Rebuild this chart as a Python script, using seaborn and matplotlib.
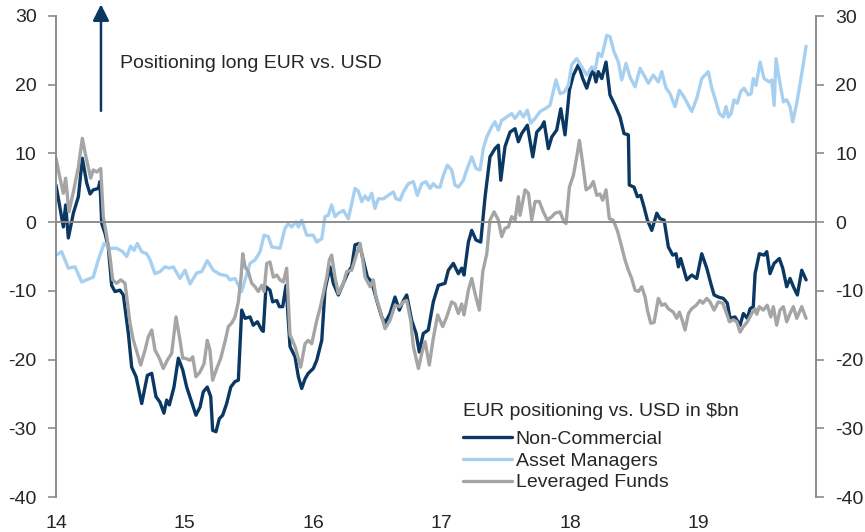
import numpy as np
import pandas as pd
import seaborn as sns
import matplotlib
matplotlib.use("Agg")
import matplotlib.pyplot as plt
from matplotlib.lines import Line2D

# ---------------- data (decimal years, $bn) ----------------
series_names = ["Non-Commercial", "Asset Managers", "Leveraged Funds"]
series_colors = ["#0B3862", "#A7D0F0", "#A5A5A5"]

nc_t = [14.000, 14.057, 14.075, 14.096, 14.135, 14.174, 14.205, 14.239, 14.265, 14.290,
        14.329, 14.342, 14.356, 14.381, 14.407, 14.433, 14.459, 14.498, 14.524, 14.563,
        14.589, 14.623, 14.667, 14.711, 14.745, 14.778, 14.809, 14.840, 14.861, 14.882,
        14.918, 14.952, 14.986, 15.017, 15.056, 15.089, 15.121, 15.146, 15.177, 15.204,
        15.219, 15.245, 15.271, 15.297, 15.328, 15.360, 15.393, 15.419, 15.445, 15.471,
        15.510, 15.535, 15.567, 15.601, 15.613, 15.634, 15.665, 15.686, 15.718, 15.738,
        15.764, 15.790, 15.821, 15.860, 15.886, 15.912, 15.938, 15.963, 16.002, 16.029,
        16.068, 16.093, 16.132, 16.158, 16.197, 16.236, 16.275, 16.301, 16.327, 16.360,
        16.391, 16.423, 16.457, 16.496, 16.535, 16.560, 16.599, 16.638, 16.672, 16.698,
        16.729, 16.768, 16.802, 16.827, 16.858, 16.897, 16.936, 16.975, 17.027, 17.053,
        17.092, 17.131, 17.157, 17.175, 17.209, 17.235, 17.268, 17.305, 17.339, 17.377,
        17.416, 17.442, 17.461, 17.494, 17.533, 17.572, 17.598, 17.624, 17.668, 17.710,
        17.741, 17.780, 17.798, 17.831, 17.858, 17.896, 17.928, 17.961, 17.995, 18.026,
        18.065, 18.099, 18.130, 18.161, 18.181, 18.202, 18.220, 18.247, 18.280, 18.311,
        18.350, 18.389, 18.420, 18.454, 18.461, 18.498, 18.524, 18.550, 18.576, 18.602,
        18.636, 18.675, 18.700, 18.732, 18.765, 18.799, 18.825, 18.843, 18.861, 18.908,
        18.947, 18.986, 19.025, 19.064, 19.095, 19.121, 19.154, 19.193, 19.224, 19.245,
        19.284, 19.323, 19.349, 19.380, 19.401, 19.426, 19.440, 19.473, 19.510, 19.531,
        19.556, 19.588, 19.629, 19.655, 19.686, 19.712, 19.738, 19.769, 19.803, 19.837]
nc_v = [5.4, -0.7, 2.5, -2.3, 1.3, 3.7, 9.3, 5.7, 4.1, 4.7,
        4.9, 5.9, -0.2, -1.6, -3.6, -9.2, -10.1, -9.9, -10.6, -16.2,
        -21.1, -22.5, -26.4, -22.3, -22.0, -25.4, -26.2, -27.8, -25.9, -26.6,
        -24.0, -19.8, -21.5, -24.0, -26.2, -28.1, -26.9, -24.7, -24.0, -25.4,
        -30.3, -30.5, -28.6, -28.1, -26.4, -24.0, -23.2, -23.0, -12.8, -14.0,
        -13.8, -15.0, -14.5, -15.7, -15.9, -9.4, -9.9, -11.6, -11.4, -12.3,
        -12.3, -9.2, -18.1, -19.6, -22.5, -24.2, -22.8, -22.0, -21.3, -20.1,
        -17.2, -9.9, -6.5, -8.9, -10.6, -8.9, -7.2, -6.5, -3.3, -3.1,
        -5.5, -8.0, -8.7, -11.4, -13.8, -14.7, -13.3, -10.9, -12.8, -11.6,
        -10.6, -14.3, -16.2, -18.9, -16.2, -15.7, -11.6, -9.2, -8.9, -7.0,
        -6.0, -7.5, -6.7, -7.7, -2.9, -1.2, -2.6, -2.9, 3.7, 9.5,
        10.7, 11.2, 6.1, 11.0, 13.1, 13.6, 11.7, 12.9, 14.1, 9.5,
        13.1, 13.9, 14.6, 10.7, 12.4, 13.4, 16.5, 12.7, 19.2, 21.4,
        22.9, 20.9, 19.5, 21.4, 22.1, 20.4, 21.9, 20.9, 23.3, 18.5,
        17.0, 15.3, 12.9, 12.7, 5.4, 5.1, 3.7, 3.9, 2.2, 0.3,
        -1.2, 1.3, 0.5, 0.3, -3.6, -4.8, -4.6, -6.5, -5.3, -8.4,
        -7.7, -8.2, -4.6, -6.7, -8.9, -10.6, -10.9, -11.1, -11.8, -14.0,
        -13.8, -15.0, -13.3, -14.0, -12.6, -12.3, -7.5, -4.6, -4.8, -4.3,
        -7.5, -6.0, -5.3, -6.7, -9.4, -8.2, -9.4, -10.6, -7.0, -8.4]

am_t = [14.000, 14.044, 14.096, 14.148, 14.200, 14.239, 14.290, 14.329, 14.374, 14.420,
        14.472, 14.519, 14.550, 14.581, 14.607, 14.633, 14.667, 14.706, 14.732, 14.770,
        14.809, 14.848, 14.882, 14.913, 14.965, 15.004, 15.043, 15.095, 15.134, 15.177,
        15.224, 15.276, 15.328, 15.354, 15.393, 15.445, 15.471, 15.510, 15.549, 15.588,
        15.619, 15.652, 15.679, 15.743, 15.782, 15.808, 15.834, 15.868, 15.886, 15.912,
        15.951, 16.002, 16.029, 16.068, 16.093, 16.119, 16.145, 16.171, 16.197, 16.236,
        16.275, 16.301, 16.327, 16.353, 16.379, 16.405, 16.430, 16.457, 16.482, 16.508,
        16.547, 16.586, 16.625, 16.646, 16.677, 16.703, 16.742, 16.781, 16.812, 16.846,
        16.879, 16.911, 16.936, 16.963, 16.988, 17.014, 17.045, 17.079, 17.105, 17.131,
        17.170, 17.196, 17.235, 17.268, 17.300, 17.325, 17.352, 17.391, 17.416, 17.442,
        17.468, 17.507, 17.546, 17.572, 17.611, 17.637, 17.668, 17.694, 17.728, 17.767,
        17.805, 17.844, 17.891, 17.922, 17.953, 17.987, 18.013, 18.052, 18.091, 18.130,
        18.169, 18.195, 18.220, 18.247, 18.286, 18.311, 18.342, 18.376, 18.402, 18.436,
        18.467, 18.506, 18.545, 18.584, 18.609, 18.648, 18.687, 18.714, 18.747, 18.778,
        18.817, 18.851, 18.887, 18.921, 18.947, 18.986, 19.025, 19.076, 19.103, 19.128,
        19.162, 19.193, 19.214, 19.232, 19.253, 19.276, 19.302, 19.328, 19.354, 19.388,
        19.409, 19.426, 19.447, 19.479, 19.510, 19.551, 19.570, 19.588, 19.603, 19.629,
        19.660, 19.686, 19.712, 19.733, 19.764, 19.803, 19.837]
am_v = [-4.8, -4.3, -6.7, -6.5, -8.7, -8.4, -8.0, -5.5, -3.1, -3.8,
        -3.8, -4.3, -5.0, -3.5, -4.1, -3.1, -4.3, -4.6, -5.5, -7.5,
        -7.2, -6.5, -6.7, -6.5, -8.2, -7.0, -9.0, -7.4, -7.2, -5.6,
        -7.0, -7.6, -7.8, -8.4, -8.2, -10.1, -8.4, -6.0, -5.5, -4.3,
        -1.9, -2.1, -3.6, -3.8, -0.9, -0.2, -0.7, 0.05, -0.7, 0.3,
        -1.9, -1.9, -2.9, -2.4, 0.8, 1.0, 2.5, 0.8, 1.3, 1.7,
        0.5, 2.7, 4.9, 4.5, 3.0, 3.8, 3.2, 4.2, 2.0, 3.4,
        3.4, 3.9, 4.4, 3.4, 3.2, 4.4, 5.6, 5.9, 3.9, 5.6,
        5.9, 4.9, 5.6, 5.1, 5.1, 6.8, 8.3, 7.6, 5.4, 5.1,
        6.1, 7.6, 9.5, 7.8, 7.6, 10.7, 12.4, 13.9, 14.6, 13.4,
        14.8, 15.3, 15.8, 15.1, 16.1, 15.3, 16.3, 14.4, 15.1, 16.1,
        16.5, 17.0, 20.7, 18.7, 18.9, 19.9, 22.9, 23.8, 22.6, 21.4,
        22.6, 22.1, 24.6, 24.1, 27.2, 27.0, 24.8, 23.3, 20.7, 23.1,
        21.1, 19.7, 22.4, 21.1, 20.2, 21.4, 20.4, 21.9, 19.5, 18.7,
        16.8, 19.2, 18.2, 17.0, 16.1, 18.0, 20.9, 21.9, 19.5, 18.0,
        15.8, 15.3, 16.8, 15.3, 15.8, 17.8, 17.3, 19.0, 19.5, 18.5,
        18.7, 20.9, 19.9, 23.3, 20.9, 20.4, 20.7, 17.0, 23.8, 20.7,
        17.5, 17.8, 16.8, 14.6, 17.3, 21.6, 25.6]

lf_t = [14.000, 14.031, 14.057, 14.075, 14.101, 14.135, 14.174, 14.205, 14.233, 14.270,
        14.290, 14.317, 14.348, 14.368, 14.395, 14.420, 14.441, 14.472, 14.504, 14.537,
        14.576, 14.602, 14.633, 14.659, 14.693, 14.718, 14.745, 14.770, 14.804, 14.835,
        14.866, 14.900, 14.934, 14.965, 14.986, 15.004, 15.043, 15.064, 15.089, 15.121,
        15.152, 15.177, 15.198, 15.219, 15.251, 15.282, 15.315, 15.341, 15.367, 15.393,
        15.419, 15.440, 15.453, 15.471, 15.496, 15.523, 15.549, 15.574, 15.601, 15.619,
        15.640, 15.665, 15.691, 15.718, 15.743, 15.769, 15.795, 15.821, 15.860, 15.904,
        15.938, 15.963, 15.990, 16.029, 16.054, 16.080, 16.107, 16.127, 16.145, 16.171,
        16.197, 16.236, 16.262, 16.301, 16.340, 16.366, 16.387, 16.405, 16.444, 16.469,
        16.490, 16.521, 16.560, 16.599, 16.638, 16.672, 16.703, 16.729, 16.760, 16.781,
        16.820, 16.846, 16.872, 16.905, 16.936, 16.970, 17.009, 17.040, 17.079, 17.105,
        17.131, 17.157, 17.175, 17.209, 17.235, 17.261, 17.294, 17.321, 17.352, 17.377,
        17.409, 17.442, 17.468, 17.494, 17.520, 17.546, 17.572, 17.598, 17.611, 17.650,
        17.676, 17.702, 17.728, 17.761, 17.792, 17.823, 17.858, 17.883, 17.922, 17.953,
        17.969, 17.995, 18.026, 18.052, 18.073, 18.099, 18.125, 18.156, 18.181, 18.208,
        18.233, 18.254, 18.280, 18.306, 18.335, 18.368, 18.402, 18.428, 18.454, 18.480,
        18.506, 18.532, 18.558, 18.584, 18.602, 18.628, 18.654, 18.687, 18.714, 18.739,
        18.765, 18.804, 18.830, 18.851, 18.877, 18.895, 18.921, 18.947, 18.981, 19.012,
        19.033, 19.064, 19.089, 19.121, 19.154, 19.188, 19.219, 19.240, 19.271, 19.297,
        19.323, 19.349, 19.380, 19.414, 19.440, 19.453, 19.473, 19.504, 19.535, 19.562,
        19.582, 19.608, 19.634, 19.660, 19.686, 19.712, 19.738, 19.764, 19.803, 19.837]
lf_v = [9.3, 6.4, 4.2, 6.4, 1.5, 4.4, 8.0, 12.2, 9.5, 6.4,
        7.6, 7.3, 7.8, 0.8, -2.1, -5.0, -8.4, -8.9, -8.4, -8.9,
        -14.7, -17.2, -19.1, -20.8, -18.6, -16.7, -15.7, -18.6, -19.8, -21.3,
        -20.1, -19.1, -13.8, -17.2, -19.8, -19.8, -20.1, -19.6, -22.5, -21.8,
        -20.6, -17.2, -18.6, -23.0, -21.3, -19.8, -17.4, -15.2, -14.7, -13.8,
        -11.6, -8.0, -4.6, -6.5, -7.2, -8.9, -9.4, -10.1, -9.2, -10.1,
        -6.0, -5.8, -8.0, -7.7, -8.4, -8.7, -6.7, -16.4, -18.1, -21.1,
        -17.7, -17.2, -17.7, -14.3, -12.6, -10.4, -8.0, -5.5, -4.8, -8.0,
        -10.4, -8.9, -7.2, -7.0, -4.6, -3.1, -5.5, -8.0, -9.4, -8.4,
        -10.9, -12.8, -15.5, -14.3, -12.1, -12.3, -11.6, -11.4, -14.3, -18.1,
        -21.3, -19.1, -17.4, -20.8, -16.9, -13.5, -15.2, -13.8, -11.6, -11.9,
        -13.3, -11.9, -13.5, -9.9, -8.2, -10.4, -12.8, -7.2, -4.6, 0.3,
        1.5, 0.3, -2.1, -0.9, -0.7, 0.8, 0.3, 3.7, 1.0, 4.7,
        4.2, 0.3, 3.0, 3.0, 1.5, 0.3, 0.8, 1.3, 1.5, 0.05,
        -0.2, 5.1, 6.8, 9.5, 11.9, 8.5, 4.7, 5.1, 5.9, 3.9,
        4.1, 3.2, 4.7, 0.5, 0.3, -1.2, -3.6, -5.5, -7.0, -8.2,
        -9.9, -10.1, -9.4, -10.9, -12.8, -14.7, -14.6, -11.1, -12.1, -11.9,
        -12.6, -13.1, -14.0, -13.1, -14.5, -15.7, -13.3, -12.6, -12.1, -11.4,
        -11.8, -11.1, -11.6, -12.8, -11.6, -11.8, -13.3, -14.5, -14.2, -14.5,
        -16.0, -15.2, -14.5, -13.3, -12.6, -13.4, -12.3, -12.8, -12.1, -13.8,
        -12.3, -15.0, -12.8, -12.3, -14.5, -13.3, -12.3, -14.0, -12.3, -14.0]

x_ticks = [14, 15, 16, 17, 18, 19]
x_tick_labels = ["14", "15", "16", "17", "18", "19"]
y_ticks = [-40, -30, -20, -10, 0, 10, 20, 30]
legend_title = "EUR positioning vs. USD in $bn"
annotation_text = "Positioning long EUR vs. USD"

# ---------------- build table ----------------
frames = []
for name, t, v in zip(series_names, [nc_t, am_t, lf_t], [nc_v, am_v, lf_v]):
    frames.append(pd.DataFrame({"t": t, "v": v, "series": name}))
df = pd.concat(frames, ignore_index=True)

# ---------------- style ----------------
sns.set_style("white")
plt.rcParams["font.family"] = ["Liberation Sans", "DejaVu Sans"]
plt.rcParams["font.size"] = 14

W, H = 865, 532
fig = plt.figure(figsize=(W / 100, H / 100), dpi=100)
ax = fig.add_axes([56 / W, 1 - 497 / H, (816 - 56) / W, (497 - 16) / H])

sns.lineplot(data=df, x="t", y="v", hue="series", hue_order=series_names,
             palette=dict(zip(series_names, series_colors)), estimator=None,
             sort=False, linewidth=2.4, legend=False, ax=ax)

ax.set_xlim(14, 19.914)
ax.set_ylim(-40, 30)
ax.set_xlabel("")
ax.set_ylabel("")

axis_grey = "#8C8C8C"
for s in ["top", "right"]:
    ax.spines[s].set_visible(False)
ax.spines["bottom"].set_position(("data", 0))
ax.spines["bottom"].set_color(axis_grey)
ax.spines["bottom"].set_linewidth(1.4)
ax.spines["left"].set_color(axis_grey)
ax.spines["left"].set_linewidth(1.4)
ax.set_xticks(x_ticks)
ax.tick_params(axis="x", direction="out", length=4, width=1.2, color=axis_grey,
               labelbottom=False)
ax.set_yticks(y_ticks)
ax.set_yticklabels([str(t) for t in y_ticks])
ax.tick_params(axis="y", direction="out", length=6, width=1.2, color=axis_grey,
               pad=8, labelsize=14)

# bottom labels
sec = ax.secondary_xaxis("bottom")
sec.set_xticks(x_ticks)
sec.set_xticklabels(x_tick_labels)
sec.tick_params(length=0, pad=13, labelsize=14)
sec.spines["bottom"].set_visible(False)

# right axis mirror
ax2 = ax.twinx()
ax2.set_ylim(-40, 30)
ax2.set_yticks(y_ticks)
ax2.set_yticklabels([str(t) for t in y_ticks])
for s in ["top", "left", "bottom"]:
    ax2.spines[s].set_visible(False)
ax2.spines["right"].set_color(axis_grey)
ax2.spines["right"].set_linewidth(1.4)
ax2.tick_params(axis="y", direction="out", length=6, width=1.2, color=axis_grey,
                pad=8, labelsize=14)

# arrow + annotation
ax.annotate("", xy=(14.35, 31.7), xytext=(14.35, 16.2), xycoords="data",
            annotation_clip=False,
            arrowprops=dict(arrowstyle="-|>,head_length=0.7,head_width=0.35",
                            color=series_colors[0], lw=1.8, shrinkA=0, shrinkB=0))
ax.text(14.495, 23.1, annotation_text, fontsize=14, va="center", ha="left")

# legend title as text, entries as legend
fig.text(463 / W, 1 - 411 / H, legend_title, fontsize=14, ha="left", va="center")
handles = [Line2D([0], [0], color=c, lw=2.4) for c in series_colors]
leg = ax.legend(handles, series_names, loc="upper left",
                bbox_to_anchor=(463 / W, 1 - 430 / H), bbox_transform=fig.transFigure,
                frameon=False, fontsize=14, handlelength=2.5,
                handletextpad=0.2, labelspacing=0.22, borderpad=0, borderaxespad=0)

fig.savefig("out.png", dpi=100)
